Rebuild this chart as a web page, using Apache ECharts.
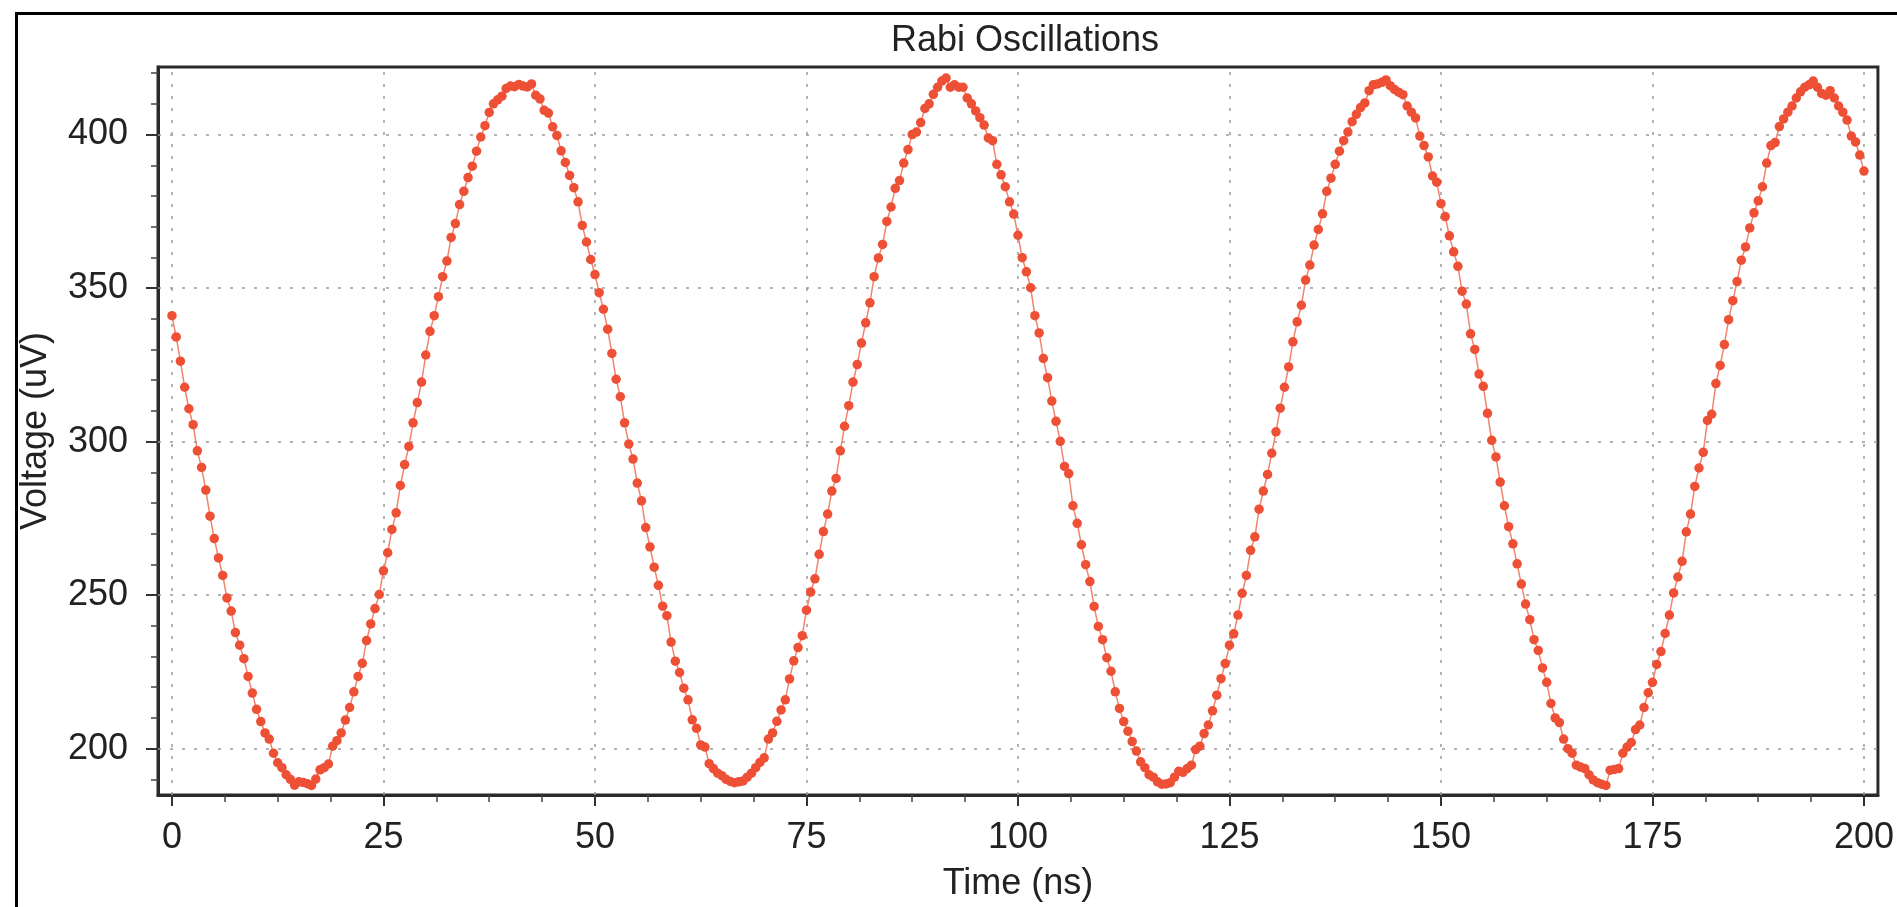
<!DOCTYPE html>
<html>
<head>
<meta charset="utf-8">
<title>Rabi Oscillations</title>
<script src="https://cdn.jsdelivr.net/npm/echarts@6/dist/echarts.min.js"></script>
<style>
  html, body { margin: 0; padding: 0; background: #ffffff; }
  #chart { width: 1897px; height: 907px; }
</style>
</head>
<body>
<div id="chart"></div>
<script>
// Measured signal, one sample every 0.5 ns from 0 to 200 ns (uV)
const voltageUV = [
  341.0, 334.1, 326.2, 317.7, 310.7, 305.5, 297.0, 291.6, 284.2, 275.7,
  268.4, 262.1, 256.4, 249.1, 244.8, 237.8, 233.7, 229.3, 223.5, 218.1,
  212.8, 208.8, 205.1, 203.1, 198.5, 195.4, 193.8, 191.5, 190.0, 188.1,
  189.2, 189.0, 188.6, 188.0, 190.1, 193.1, 193.8, 195.0, 200.8, 202.6,
  205.1, 209.3, 213.4, 218.5, 223.5, 227.8, 235.2, 240.6, 245.6, 250.2,
  257.9, 263.8, 271.4, 276.8, 285.7, 292.5, 298.4, 306.1, 312.7, 319.4,
  328.2, 335.9, 341.0, 347.2, 353.7, 358.8, 366.5, 371.0, 377.2, 381.5,
  386.0, 389.7, 394.6, 399.2, 402.9, 407.2, 410.0, 411.3, 412.5, 415.0,
  415.8, 415.6, 416.3, 415.8, 415.5, 416.5, 412.8, 411.6, 407.9, 407.0,
  402.5, 399.7, 394.7, 390.9, 386.7, 382.7, 378.1, 370.4, 365.0, 359.3,
  354.4, 348.5, 343.1, 336.6, 328.7, 320.3, 314.6, 306.1, 299.2, 294.3,
  286.5, 280.7, 272.0, 265.7, 259.1, 253.2, 246.4, 243.3, 234.7, 228.5,
  224.8, 219.7, 215.9, 209.4, 206.6, 201.2, 200.5, 195.1, 193.5, 192.0,
  191.2, 190.0, 189.3, 188.9, 189.2, 189.5, 190.7, 192.0, 193.8, 195.5,
  197.0, 203.1, 205.1, 208.9, 212.6, 215.9, 222.7, 228.6, 232.9, 236.8,
  245.1, 251.0, 255.3, 263.3, 270.7, 276.4, 283.9, 288.0, 297.0, 305.0,
  311.7, 319.4, 325.1, 332.1, 338.7, 345.2, 353.7, 359.8, 364.2, 371.7,
  376.4, 382.5, 385.0, 390.7, 395.1, 400.0, 400.8, 403.9, 408.5, 410.0,
  413.1, 415.4, 417.4, 418.4, 415.4, 416.2, 415.4, 415.4, 411.9, 410.0,
  407.7, 405.5, 403.1, 398.9, 398.0, 390.3, 386.9, 383.0, 378.1, 374.1,
  367.2, 359.9, 355.3, 350.1, 341.0, 335.4, 327.1, 320.8, 313.2, 306.6,
  300.1, 291.9, 289.6, 279.1, 273.4, 266.4, 259.9, 254.4, 246.3, 239.8,
  235.5, 229.6, 225.2, 218.5, 213.1, 208.8, 205.7, 202.3, 199.2, 195.7,
  193.8, 191.5, 190.7, 189.2, 188.4, 188.5, 188.9, 190.7, 192.6, 192.3,
  193.5, 194.6, 199.7, 200.8, 204.9, 207.7, 212.3, 217.4, 222.8, 227.7,
  233.7, 237.4, 243.5, 250.6, 256.4, 264.6, 269.0, 278.0, 283.9, 289.3,
  296.2, 303.2, 310.9, 317.7, 324.3, 332.5, 339.0, 344.4, 352.6, 357.5,
  364.0, 369.1, 374.2, 381.5, 385.8, 390.3, 394.6, 398.0, 400.8, 404.2,
  406.6, 408.8, 410.3, 414.3, 416.2, 416.5, 417.0, 417.8, 415.9, 414.7,
  413.8, 413.0, 409.3, 407.3, 405.4, 399.5, 396.4, 392.7, 386.5, 384.5,
  377.5, 373.3, 367.0, 361.8, 357.1, 349.0, 344.8, 335.1, 330.0, 322.0,
  318.0, 309.2, 300.4, 295.0, 286.8, 279.1, 272.3, 266.7, 260.2, 253.6,
  247.1, 242.0, 235.5, 232.0, 226.3, 221.6, 214.7, 210.0, 208.5, 203.1,
  200.0, 198.5, 194.6, 194.0, 193.5, 191.5, 189.8, 188.9, 188.4, 188.0,
  193.0, 193.2, 193.5, 198.5, 200.5, 202.0, 206.2, 207.7, 213.4, 218.2,
  221.6, 227.4, 231.6, 237.5, 243.5, 250.7, 255.9, 261.0, 270.6, 276.4,
  285.4, 291.4, 296.5, 306.9, 308.9, 318.9, 324.8, 331.6, 339.7, 345.9,
  352.1, 359.1, 363.4, 369.6, 374.5, 378.4, 383.0, 390.7, 396.4, 397.4,
  402.6, 405.1, 407.3, 409.3, 411.9, 413.9, 415.4, 416.2, 417.4, 415.4,
  413.4, 412.8, 414.3, 411.9, 409.3, 407.3, 404.7, 399.5, 397.6, 393.3,
  388.1
];

// Sample times (ns): 0.5 ns sampling grid
const sampleStepNs = 0.5;
const timeNs = voltageUV.map((_, i) => i * sampleStepNs);

// Axis tick values
const timeTicks = [0, 25, 50, 75, 100, 125, 150, 175, 200];
const timeMinorTicks = [6.25, 12.5, 18.75, 31.25, 37.5, 43.75, 56.25, 62.5, 68.75,
  81.25, 87.5, 93.75, 106.25, 112.5, 118.75, 131.25, 137.5, 143.75,
  156.25, 162.5, 168.75, 181.25, 187.5, 193.75];
const voltageTicks = [200, 250, 300, 350, 400];
const voltageMinorTicks = [190, 210, 220, 230, 240, 260, 270, 280, 290,
  310, 320, 330, 340, 360, 370, 380, 390, 410, 420];

// Visible ranges of the plot area
const timeRange = [-1.65, 201.65];
const voltageRange = [184.9, 422.0];

const points = timeNs.map((t, i) => [t, voltageUV[i]]);

const FONT = "'Liberation Sans', Arial, Helvetica, sans-serif";
const TEXT = '#222222';
const FRAME = '#2a2a2a';
const MARK = '#EE5036';

const chart = echarts.init(document.getElementById('chart'), null, { renderer: 'canvas' });

const majorX = {
  type: 'value', min: timeRange[0], max: timeRange[1], position: 'bottom',
  axisLine: { show: true, onZero: false, lineStyle: { color: FRAME, width: 3 } },
  axisTick: { show: true, customValues: timeTicks, length: 11, lineStyle: { color: '#333', width: 2 } },
  axisLabel: { show: true, customValues: timeTicks, margin: 25, fontSize: 36, fontFamily: FONT, color: TEXT },
  splitLine: { show: false },
  name: 'Time (ns)', nameLocation: 'middle', nameGap: 71,
  nameTextStyle: { fontSize: 36, fontFamily: FONT, color: TEXT }
};
const minorX = {
  type: 'value', min: timeRange[0], max: timeRange[1], position: 'bottom',
  axisLine: { show: false, onZero: false },
  axisTick: { show: true, customValues: timeMinorTicks, length: 7, lineStyle: { color: '#444', width: 1.5 } },
  axisLabel: { show: false },
  splitLine: { show: false }
};
const majorY = {
  type: 'value', min: voltageRange[0], max: voltageRange[1], position: 'left',
  axisLine: { show: true, onZero: false, lineStyle: { color: FRAME, width: 3 } },
  axisTick: { show: true, customValues: voltageTicks, length: 12, lineStyle: { color: '#333', width: 2 } },
  axisLabel: { show: true, customValues: voltageTicks, margin: 30, fontSize: 36, fontFamily: FONT, color: TEXT },
  splitLine: { show: false },
  name: 'Voltage (uV)', nameLocation: 'middle', nameGap: 104,
  nameTextStyle: { fontSize: 36, fontFamily: FONT, color: TEXT }
};
const minorY = {
  type: 'value', min: voltageRange[0], max: voltageRange[1], position: 'left',
  axisLine: { show: false, onZero: false },
  axisTick: { show: true, customValues: voltageMinorTicks, length: 7, lineStyle: { color: '#444', width: 1.5 } },
  axisLabel: { show: false },
  splitLine: { show: false }
};

// Dotted grid lines at the labelled ticks
const gridLineData = timeTicks.map(v => ({ xAxis: v })).concat(voltageTicks.map(v => ({ yAxis: v })));

chart.setOption({
  animation: false,
  backgroundColor: '#ffffff',
  title: {
    text: 'Rabi Oscillations',
    left: 1020, top: 18, textAlign: 'center',
    textStyle: { fontSize: 36, fontWeight: 'normal', fontFamily: FONT, color: TEXT }
  },
  grid: {
    left: 158, top: 67, right: 14, bottom: 105,
    show: true, borderColor: FRAME, borderWidth: 3, backgroundColor: 'transparent'
  },
  xAxis: [majorX, minorX],
  yAxis: [majorY, minorY],
  graphic: [{
    type: 'rect', silent: true, z: 100,
    shape: { x: 16.5, y: 13.5, width: 1900, height: 1000 },
    style: { fill: 'none', stroke: '#000000', lineWidth: 3 }
  }],
  series: [
    {
      name: 'grid', type: 'line', data: [], silent: true, z: 1,
      markLine: {
        silent: true, z: 1, symbol: ['none', 'none'], animation: false,
        label: { show: false },
        lineStyle: { type: [3, 9], color: '#9a9a9a', width: 1.5 },
        emphasis: { disabled: true },
        data: gridLineData
      }
    },
    {
      name: 'Voltage', type: 'line', data: points, z: 3,
      xAxisIndex: 0, yAxisIndex: 0,
      symbol: 'circle', symbolSize: 9.5, showSymbol: true,
      itemStyle: { color: MARK },
      lineStyle: { color: '#F2846F', width: 1.5 },
      emphasis: { disabled: true }
    }
  ]
});
</script>
</body>
</html>
